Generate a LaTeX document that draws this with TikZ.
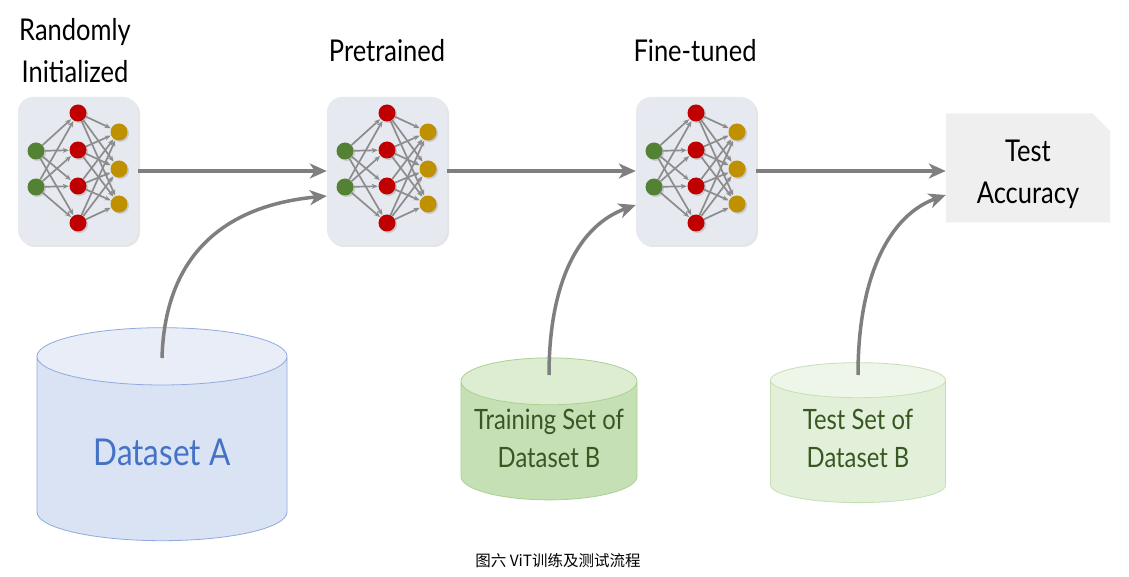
\documentclass[tikz,border=0pt]{standalone}
\usepackage{fontspec}
\setmainfont[FakeStretch=0.85]{Lato}
\newfontfamily\cjk{Noto Sans CJK SC}
\usepackage{tikz}
\usetikzlibrary{arrows.meta,positioning,shapes.geometric,shapes.misc,shadows}

\definecolor{netbg}{HTML}{E6E9EF}
\definecolor{ingreen}{HTML}{548235}
\definecolor{hidred}{HTML}{C00000}
\definecolor{outgold}{HTML}{BF9000}
\definecolor{flowgray}{HTML}{7F7F7F}
\definecolor{linkgray}{HTML}{8C8C8C}
\definecolor{accbg}{HTML}{EFEFEF}
\definecolor{blueA}{HTML}{DAE3F3}
\definecolor{blueAtop}{HTML}{E8EDF8}
\definecolor{blueAline}{HTML}{8FAADC}
\definecolor{blueAtext}{HTML}{4472C4}
\definecolor{greenB}{HTML}{C5E0B4}
\definecolor{greenBtop}{HTML}{DDEDD2}
\definecolor{greenBline}{HTML}{A9D18E}
\definecolor{lightB}{HTML}{E2F0D9}
\definecolor{lightBtop}{HTML}{EEF6E9}
\definecolor{greenBtext}{HTML}{385723}

\begin{document}
\begin{tikzpicture}[
 x=1pt,y=-1pt,
 title/.style={align=center,font=\fontsize{30}{42}\selectfont},
 netbox/.style={fill=netbg,rounded corners=15pt,minimum width=120pt,minimum height=148pt,
  drop shadow={shadow xshift=2pt,shadow yshift=-2pt,opacity=0.2}},
 neuron/.style={circle,inner sep=0pt,minimum size=17pt,
  drop shadow={shadow xshift=1.5pt,shadow yshift=-1.5pt,opacity=0.3}},
 link/.style={-{Stealth[length=6pt,width=5pt]},line width=1.7pt,draw=linkgray,shorten >=0.5pt},
 flow/.style={-{Stealth[length=17pt,width=15pt,inset=5pt]},line width=3.5pt,draw=flowgray},
 db/.style={cylinder,shape border rotate=90,draw,line width=0.8pt,cylinder uses custom fill,
  align=center},
 mlp/.pic={
  \node[netbox] (-box) at (0,0) {};
  \foreach \y [count=\i] in {-20,16}
   \node[neuron,fill=ingreen] (-i\i) at (-42,\y) {};
  \foreach \y [count=\i] in {-58,-21,15,52}
   \node[neuron,fill=hidred] (-h\i) at (0,\y) {};
  \foreach \y [count=\i] in {-39,-2,33}
   \node[neuron,fill=outgold] (-o\i) at (41,\y) {};
  \foreach \a in {1,2}
   \foreach \b in {1,...,4}
    \draw[link] (-i\a) -- (-h\b);
  \foreach \a in {1,...,4}
   \foreach \b in {1,...,3}
    \draw[link] (-h\a) -- (-o\b);
 }]
\useasboundingbox[fill=white] (0,0) rectangle (1129,577);

% three networks
\pic (rnd) at (78,171) {mlp};
\pic (pre) at (387,171) {mlp};
\pic (fin) at (696,171) {mlp};
\node[title] (rndlbl) at (75,51) {Randomly\\Initialized};
\node[title] (prelbl) at (387,51) {Pretrained};
\node[title] (finlbl) at (695,51) {Fine-tuned};

\node[chamfered rectangle,chamfered rectangle corners=north east,chamfered rectangle xsep=14pt,
 fill=accbg,minimum width=164pt,minimum height=109pt,title] (acc) at (1028,168)
 {\rule{0pt}{34pt}Test\\Accuracy};

% datasets
\node[db,draw=blueAline,cylinder body fill=blueA,cylinder end fill=blueAtop,
 minimum width=250pt,minimum height=213pt,aspect=0.4,text=blueAtext,
 font=\fontsize{37}{44}\selectfont] (dsA) at (162,452) {Dataset A};
\node[db,draw=greenBline,cylinder body fill=greenB,cylinder end fill=greenBtop,
 minimum width=176pt,minimum height=142pt,aspect=0.3,text=greenBtext,
 font=\fontsize{28}{38}\selectfont] (trB) at (549,444)
 {Training Set of\\Dataset B\rule[-12pt]{0pt}{0pt}};
\node[db,draw=greenB,cylinder body fill=lightB,cylinder end fill=lightBtop,
 minimum width=175pt,minimum height=140pt,aspect=0.3,text=greenBtext,
 font=\fontsize{28}{38}\selectfont] (teB) at (858,444)
 {Test Set of\\Dataset B\rule[-12pt]{0pt}{0pt}};
\coordinate (dsAin) at (162,358);
\coordinate (trBin) at (549,375);
\coordinate (teBin) at (858,375);

% flow
\draw[flow] (rnd-box) -- (pre-box);
\draw[flow] (pre-box) -- (fin-box);
\draw[flow] (fin-box.east) -- (fin-box.east -| acc.west);
\draw[flow] (dsAin) .. controls (165,250) and (230,205) .. ([yshift=-25pt]pre-box.west);
\draw[flow] (trBin) .. controls (549,280) and (580,225) .. ([yshift=-34pt]fin-box.west);
\draw[flow] (teBin) .. controls (858,275) and (890,215) .. ([yshift=-27pt]acc.west);

\node[font=\cjk\fontsize{15.5}{18}\selectfont] (cap) at (558,561) {图六 ViT训练及测试流程};
\end{tikzpicture}
\end{document}
